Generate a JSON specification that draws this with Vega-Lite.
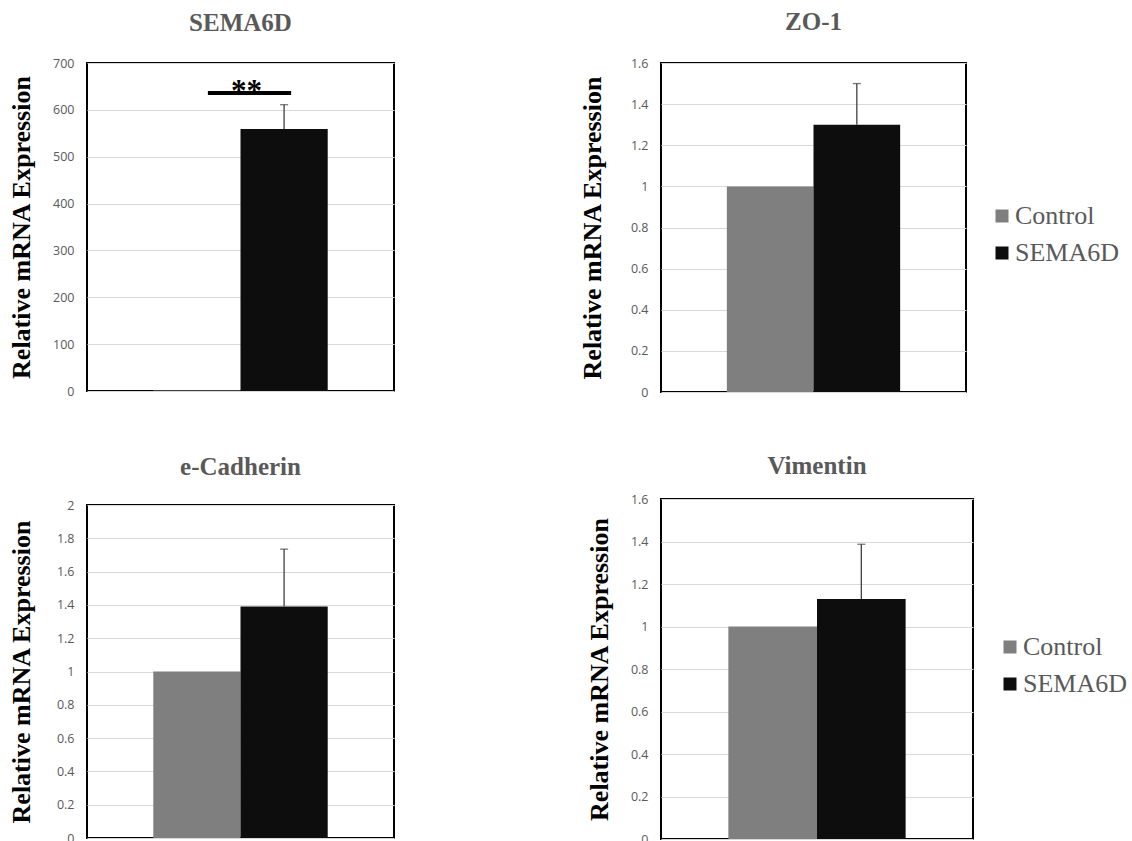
{
  "$schema": "https://vega.github.io/schema/vega-lite/v6.json",
  "background": "white",
  "padding": {"left": 7, "top": 9, "right": 5, "bottom": 5},
  "datasets": {
    "expr": [
      {"gene": "SEMA6D", "group": "Control", "value": 1, "upper": null},
      {"gene": "SEMA6D", "group": "SEMA6D", "value": 559, "upper": 611},
      {"gene": "ZO-1", "group": "Control", "value": 1, "upper": null},
      {"gene": "ZO-1", "group": "SEMA6D", "value": 1.3, "upper": 1.5},
      {"gene": "e-Cadherin", "group": "Control", "value": 1, "upper": null},
      {"gene": "e-Cadherin", "group": "SEMA6D", "value": 1.39, "upper": 1.735},
      {"gene": "Vimentin", "group": "Control", "value": 1, "upper": null},
      {"gene": "Vimentin", "group": "SEMA6D", "value": 1.13, "upper": 1.387}
    ],
    "sig": [
      {"gene": "SEMA6D", "from": "Control", "to": "SEMA6D", "level": 636, "label": "**"}
    ]
  },
  "config": {
    "view": {"stroke": "#000000", "strokeWidth": 2},
    "axis": {
      "gridColor": "#d9d9d9", "gridWidth": 1, "domain": false, "ticks": false, "tickSize": 0,
      "labelFont": "Open Sans", "labelFontSize": 12.5, "labelColor": "#595959", "labelPadding": 13,
      "labelOverlap": false, "tickCount": 20,
      "titleFont": "Liberation Serif", "titleFontSize": 26, "titleFontWeight": "bold", "titleColor": "#000000",
      "titleBaseline": "alphabetic"
    },
    "title": {"font": "Liberation Serif", "fontSize": 25, "fontWeight": "bold", "color": "#595959", "baseline": "alphabetic", "frame": "group", "anchor": "middle"},
    "legend": {
      "title": null, "symbolType": "square", "symbolSize": 169, "symbolStrokeWidth": 0,
      "labelFont": "Liberation Serif", "labelFontSize": 26, "labelColor": "#595959",
      "labelOffset": 0, "rowPadding": 11, "padding": 0
    }
  },
  "resolve": {"scale": {"color": "independent"}, "legend": {"color": "independent"}},
  "spacing": 183,
  "hconcat": [
    {
      "spacing": 55,
      "resolve": {"scale": {"color": "independent"}, "legend": {"color": "independent"}},
      "vconcat": [
        {
          "width": 307, "height": 328,
          "title": {"text": "SEMA6D", "offset": 21},
          "data": {"name": "expr"},
          "encoding": {
            "x": {"field": "group", "type": "nominal", "axis": null, "sort": ["Control", "SEMA6D"],
                  "scale": {"domain": ["Control", "SEMA6D"], "paddingInner": 0, "paddingOuter": 0.76}}
          },
          "layer": [
            {
              "transform": [{"filter": "datum.gene === 'SEMA6D'"}],
              "mark": {"type": "bar"},
              "encoding": {
                "y": {"field": "value", "type": "quantitative", "title": "Relative mRNA Expression",
                      "scale": {"domain": [0, 700], "nice": false},
                      "axis": {"values": [0, 100, 200, 300, 400, 500, 600, 700], "tickCount": 20, "format": "~r", "titleX": -58}},
                "color": {"field": "group", "type": "nominal", "legend": null,
                          "scale": {"domain": ["Control", "SEMA6D"], "range": ["#7f7f7f", "#0d0d0d"]}}
              }
            },
            {
              "transform": [{"filter": "datum.gene === 'SEMA6D' && datum.upper != null"}],
              "mark": {"type": "rule", "color": "#404040", "strokeWidth": 1.3},
              "encoding": {
                "y": {"field": "value", "type": "quantitative", "title": "Relative mRNA Expression"},
                "y2": {"field": "upper"}
              }
            },
            {
              "transform": [{"filter": "datum.gene === 'SEMA6D' && datum.upper != null"}],
              "mark": {"type": "tick", "color": "#404040", "thickness": 1.3, "size": 8},
              "encoding": {
                "y": {"field": "upper", "type": "quantitative", "title": "Relative mRNA Expression"}
              }
            },
            {
              "data": {"name": "sig"},
              "mark": {"type": "rule", "color": "#000000", "strokeWidth": 4, "xOffset": 11, "x2Offset": 7},
              "encoding": {
                "x": {"field": "from", "type": "nominal"},
                "x2": {"field": "to"},
                "y": {"field": "level", "type": "quantitative", "title": "Relative mRNA Expression"}
              }
            },
            {
              "data": {"name": "sig"},
              "mark": {"type": "text", "font": "Liberation Serif", "fontWeight": "bold", "fontSize": 31,
                       "color": "#000000", "align": "center", "baseline": "alphabetic", "dx": 6, "dy": 8},
              "encoding": {
                "x": {"field": "to", "type": "nominal", "bandPosition": 0},
                "y": {"field": "level", "type": "quantitative", "title": "Relative mRNA Expression"},
                "text": {"field": "label"}
              }
            }
          ]
        },
        {
          "width": 307, "height": 333,
          "title": {"text": "e-Cadherin", "offset": 19},
          "data": {"name": "expr"},
          "encoding": {
            "x": {"field": "group", "type": "nominal", "axis": null, "sort": ["Control", "SEMA6D"],
                  "scale": {"domain": ["Control", "SEMA6D"], "paddingInner": 0, "paddingOuter": 0.76}}
          },
          "layer": [
            {
              "transform": [{"filter": "datum.gene === 'e-Cadherin'"}],
              "mark": {"type": "bar"},
              "encoding": {
                "y": {"field": "value", "type": "quantitative", "title": "Relative mRNA Expression",
                      "scale": {"domain": [0, 2], "nice": false},
                      "axis": {"values": [0, 0.2, 0.4, 0.6, 0.8, 1, 1.2, 1.4, 1.6, 1.8, 2], "tickCount": 20, "format": "~r", "titleX": -58}},
                "color": {"field": "group", "type": "nominal", "legend": null,
                          "scale": {"domain": ["Control", "SEMA6D"], "range": ["#7f7f7f", "#0d0d0d"]}}
              }
            },
            {
              "transform": [{"filter": "datum.gene === 'e-Cadherin' && datum.upper != null"}],
              "mark": {"type": "rule", "color": "#404040", "strokeWidth": 1.3},
              "encoding": {
                "y": {"field": "value", "type": "quantitative", "title": "Relative mRNA Expression"},
                "y2": {"field": "upper"}
              }
            },
            {
              "transform": [{"filter": "datum.gene === 'e-Cadherin' && datum.upper != null"}],
              "mark": {"type": "tick", "color": "#404040", "thickness": 1.3, "size": 8},
              "encoding": {
                "y": {"field": "upper", "type": "quantitative", "title": "Relative mRNA Expression"}
              }
            }
          ]
        }
      ]
    },
    {
      "spacing": 53,
      "resolve": {"scale": {"color": "independent"}, "legend": {"color": "independent"}},
      "vconcat": [
        {
          "width": 305, "height": 329,
          "title": {"text": "ZO-1", "offset": 22},
          "data": {"name": "expr"},
          "encoding": {
            "x": {"field": "group", "type": "nominal", "axis": null, "sort": ["Control", "SEMA6D"],
                  "scale": {"domain": ["Control", "SEMA6D"], "paddingInner": 0, "paddingOuter": 0.76}}
          },
          "layer": [
            {
              "transform": [{"filter": "datum.gene === 'ZO-1'"}],
              "mark": {"type": "bar"},
              "encoding": {
                "y": {"field": "value", "type": "quantitative", "title": "Relative mRNA Expression",
                      "scale": {"domain": [0, 1.6], "nice": false},
                      "axis": {"values": [0, 0.2, 0.4, 0.6, 0.8, 1, 1.2, 1.4, 1.6], "tickCount": 20, "format": "~r", "titleX": -61}},
                "color": {"field": "group", "type": "nominal",
                          "scale": {"domain": ["Control", "SEMA6D"], "range": ["#7f7f7f", "#0d0d0d"]},
                          "legend": {"orient": "none", "legendX": 328, "legendY": 140}}
              }
            },
            {
              "transform": [{"filter": "datum.gene === 'ZO-1' && datum.upper != null"}],
              "mark": {"type": "rule", "color": "#404040", "strokeWidth": 1.3},
              "encoding": {
                "y": {"field": "value", "type": "quantitative", "title": "Relative mRNA Expression"},
                "y2": {"field": "upper"}
              }
            },
            {
              "transform": [{"filter": "datum.gene === 'ZO-1' && datum.upper != null"}],
              "mark": {"type": "tick", "color": "#404040", "thickness": 1.3, "size": 8},
              "encoding": {
                "y": {"field": "upper", "type": "quantitative", "title": "Relative mRNA Expression"}
              }
            }
          ]
        },
        {
          "width": 312, "height": 340,
          "title": {"text": "Vimentin", "offset": 14},
          "data": {"name": "expr"},
          "encoding": {
            "x": {"field": "group", "type": "nominal", "axis": null, "sort": ["Control", "SEMA6D"],
                  "scale": {"domain": ["Control", "SEMA6D"], "paddingInner": 0, "paddingOuter": 0.76}}
          },
          "layer": [
            {
              "transform": [{"filter": "datum.gene === 'Vimentin'"}],
              "mark": {"type": "bar"},
              "encoding": {
                "y": {"field": "value", "type": "quantitative", "title": "Relative mRNA Expression",
                      "scale": {"domain": [0, 1.6], "nice": false},
                      "axis": {"values": [0, 0.2, 0.4, 0.6, 0.8, 1, 1.2, 1.4, 1.6], "tickCount": 20, "format": "~r", "titleX": -54}},
                "color": {"field": "group", "type": "nominal",
                          "scale": {"domain": ["Control", "SEMA6D"], "range": ["#7f7f7f", "#0d0d0d"]},
                          "legend": {"orient": "none", "legendX": 336, "legendY": 135}}
              }
            },
            {
              "transform": [{"filter": "datum.gene === 'Vimentin' && datum.upper != null"}],
              "mark": {"type": "rule", "color": "#404040", "strokeWidth": 1.3},
              "encoding": {
                "y": {"field": "value", "type": "quantitative", "title": "Relative mRNA Expression"},
                "y2": {"field": "upper"}
              }
            },
            {
              "transform": [{"filter": "datum.gene === 'Vimentin' && datum.upper != null"}],
              "mark": {"type": "tick", "color": "#404040", "thickness": 1.3, "size": 8},
              "encoding": {
                "y": {"field": "upper", "type": "quantitative", "title": "Relative mRNA Expression"}
              }
            }
          ]
        }
      ]
    }
  ]
}
